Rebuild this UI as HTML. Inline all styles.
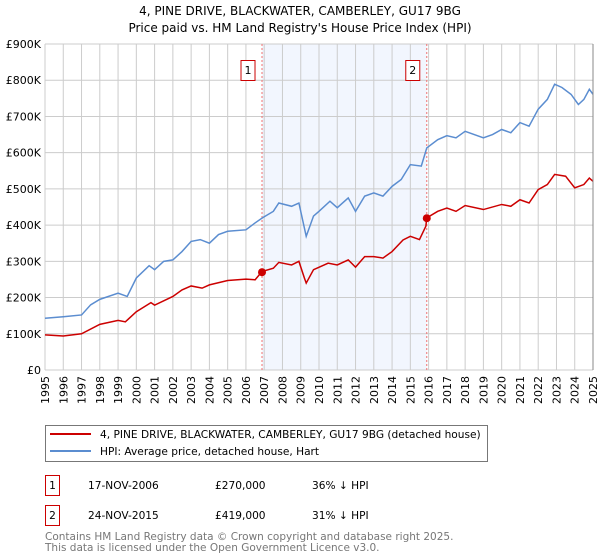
<!DOCTYPE html>
<html><head><meta charset="utf-8"><style>
body{margin:0;background:#fff;}
svg{display:block;font-family:"DejaVu Sans","Liberation Sans",sans-serif;}
</style></head><body>
<svg id="chart" width="600" height="560" viewBox="0 0 600 560" xmlns="http://www.w3.org/2000/svg">
<text x="300" y="15" text-anchor="middle" font-size="12">4, PINE DRIVE, BLACKWATER, CAMBERLEY, GU17 9BG</text>
<text x="300" y="32" text-anchor="middle" font-size="12">Price paid vs. HM Land Registry's House Price Index (HPI)</text>
<g id="plot"></g>
<g>
<rect x="45.5" y="425.5" width="442" height="36" fill="#fff" stroke="#777"/>
<line x1="50" y1="434" x2="91" y2="434" stroke="#cc0000" stroke-width="2"/>
<text x="100" y="438" font-size="10.6">4, PINE DRIVE, BLACKWATER, CAMBERLEY, GU17 9BG (detached house)</text>
<line x1="50" y1="451" x2="91" y2="451" stroke="#5b8dd0" stroke-width="2"/>
<text x="100" y="455" font-size="10.6">HPI: Average price, detached house, Hart</text>
</g>
<g font-size="10.6">
<rect x="45.5" y="475.5" width="14" height="20" fill="#fff" stroke="#cc0000"/>
<text x="52.5" y="489" text-anchor="middle">1</text>
<text x="88" y="489">17-NOV-2006</text><text x="215" y="489">£270,000</text><text x="312" y="489">36% ↓ HPI</text>
<rect x="45.5" y="505.5" width="14" height="20" fill="#fff" stroke="#cc0000"/>
<text x="52.5" y="519" text-anchor="middle">2</text>
<text x="88" y="519">24-NOV-2015</text><text x="215" y="519">£419,000</text><text x="312" y="519">31% ↓ HPI</text>
</g>
<text x="45" y="540" font-size="10.5" fill="#777">Contains HM Land Registry data © Crown copyright and database right 2025.</text>
<text x="45" y="551" font-size="10.5" fill="#777">This data is licensed under the Open Government Licence v3.0.</text>
</svg>
<script>
const hpiYears=[1995,1996,1997,1997.5,1998,1999,1999.5,2000,2000.7,2001,2001.5,2002,2002.5,2003,2003.5,2004,2004.5,2005,2006,2006.5,2006.9,2007.5,2007.8,2008.5,2008.9,2009.2,2009.3,2009.7,2010,2010.6,2011,2011.6,2012,2012.5,2013,2013.5,2014,2014.5,2015,2015.6,2015.9,2016.5,2017,2017.5,2018,2019,2019.5,2020,2020.5,2021,2021.5,2022,2022.5,2022.9,2023.3,2023.8,2024.2,2024.5,2024.8,2025];
const hpiValues=[143,147,152,180,195,212,203,254,288,277,300,304,327,355,360,350,374,383,387,406,420,438,461,452,461,392,369,425,438,466,448,475,438,480,489,480,507,526,567,563,613,636,647,641,659,641,650,664,655,683,673,720,747,789,780,761,733,747,775,761];
const priceYears=[1995,1996,1997,1998,1999,1999.4,2000,2000.8,2001,2002,2002.5,2003,2003.6,2004,2005,2006,2006.5,2006.88,2007.5,2007.8,2008.5,2008.9,2009.2,2009.3,2009.7,2010.5,2011,2011.6,2012,2012.5,2013,2013.5,2014,2014.6,2015,2015.5,2015.85,2015.9,2016.5,2017,2017.5,2018,2019,2020,2020.5,2021,2021.5,2022,2022.5,2022.9,2023.5,2024,2024.5,2024.8,2025];
const priceValues=[97,94,100,126,137,133,161,186,179,203,221,232,226,235,247,251,249,272,281,297,290,300,254,240,277,295,290,304,284,313,313,309,327,359,369,360,397,420,438,447,438,454,443,457,452,470,461,498,512,540,535,503,512,530,521];
const saleYears=[2006.88,2015.9];
const saleValues=[270,419];
const saleLabels=["1","2"];
const yTicks=[0,100,200,300,400,500,600,700,800,900];
const yTickLabels=["£0","£100K","£200K","£300K","£400K","£500K","£600K","£700K","£800K","£900K"];
const xTicks=[1995,1996,1997,1998,1999,2000,2001,2002,2003,2004,2005,2006,2007,2008,2009,2010,2011,2012,2013,2014,2015,2016,2017,2018,2019,2020,2021,2022,2023,2024,2025];

const NS="http://www.w3.org/2000/svg";
const X0=45,X1=593,Y0=370,Y1=44;
const xs=y=>X0+(y-1995)/30*(X1-X0);
const ys=v=>Y0-v/900*(Y0-Y1);
const plot=document.getElementById('plot');
function mk(t,a){const e=document.createElementNS(NS,t);for(const k in a)e.setAttribute(k,a[k]);plot.appendChild(e);return e;}
let sh=mk('rect',{x:xs(saleYears[0]),y:Y1,width:xs(saleYears[1])-xs(saleYears[0]),height:Y0-Y1,fill:'#f2f6fe'});


xTicks.forEach(t=>{
 const l=mk('line',{x1:xs(t),x2:xs(t),y1:Y1,y2:Y0,stroke:'#ccc'});
 
 
 const tx=mk('text',{x:0,y:0,'font-size':11,'text-anchor':'end',transform:`translate(${xs(t)+4},${Y0+6}) rotate(-90)`});
 tx.textContent=t;
 
 
});
yTicks.forEach((t,i)=>{
 const l=mk('line',{x1:X0,x2:X1,y1:ys(t),y2:ys(t),stroke:'#ccc'});
 
 
 const tx=mk('text',{x:41,y:ys(t)+4,'font-size':11,'text-anchor':'end'});
 tx.textContent=yTickLabels[i];
 
 
});
saleYears.forEach((s,i)=>{
 const l=mk('line',{x1:xs(s),x2:xs(s),y1:Y1,y2:Y0,stroke:'#f07070','stroke-dasharray':'2,2'});
 
 
 const r=mk('rect',{x:xs(s)-21,y:60.5,width:14,height:20,fill:'#fff',stroke:'#cc0000'});
 
 
 const tx=mk('text',{x:xs(s)-14,y:74,'font-size':11,'text-anchor':'middle'});
 tx.textContent=saleLabels[i];
 
 
});
const hp=mk('polyline',{points:hpiYears.map((y,i)=>xs(y)+','+ys(hpiValues[i])).join(' '),fill:'none',stroke:'#5b8dd0','stroke-width':1.5});


const pp=mk('polyline',{points:priceYears.map((y,i)=>xs(y)+','+ys(priceValues[i])).join(' '),fill:'none',stroke:'#cc0000','stroke-width':1.5});


saleYears.forEach((s,i)=>{
 const c=mk('circle',{cx:xs(s),cy:ys(saleValues[i]),r:4,fill:'#cc0000'});
 
 
});
const ax=mk('line',{x1:X1,x2:X1,y1:Y1,y2:Y0,stroke:'#888'});


</script>
</body></html>
